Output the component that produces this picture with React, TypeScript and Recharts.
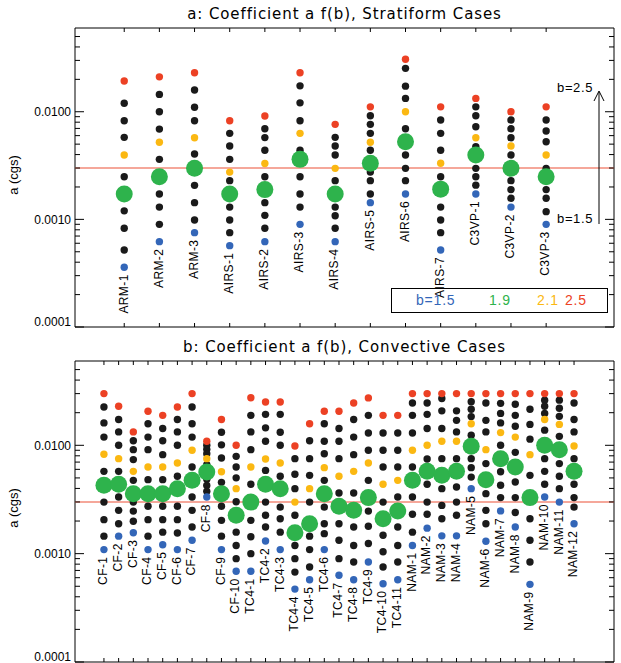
import React from "react";
import {
  ScatterChart,
  Scatter,
  XAxis,
  YAxis,
  ReferenceLine,
  ReferenceArea,
} from "recharts";

// b values for each column, top dot first (b = 2.5 ... 1.5)
const B_VALUES = [2.5, 2.4, 2.3, 2.2, 2.1, 2.0, 1.9, 1.8, 1.7, 1.6, 1.5];

const armNames = ["ARM-1", "ARM-2", "ARM-3"];
const armA = [
  [0.0193, 0.012, 0.00825, 0.00578, 0.00396, 0.00249, 0.00172, 0.0012, 0.000826, 0.00052, 0.000359],
  [0.0211, 0.0145, 0.01, 0.0069, 0.0052, 0.00361, 0.00249, 0.00172, 0.0013, 0.000899, 0.000621],
  [0.023, 0.0159, 0.011, 0.00825, 0.00574, 0.00405, 0.00298, 0.00207, 0.00143, 0.000986, 0.000753],
];

const airsNames = ["AIRS-1", "AIRS-2", "AIRS-3", "AIRS-4", "AIRS-5", "AIRS-6", "AIRS-7"];
const airsA = [
  [0.00825, 0.0063, 0.00481, 0.00361, 0.00275, 0.00229, 0.00172, 0.0013, 0.000986, 0.000753, 0.00057],
  [0.00912, 0.00695, 0.00575, 0.00439, 0.0033, 0.00249, 0.00189, 0.00143, 0.00109, 0.000826, 0.000621],
  [0.023, 0.0174, 0.0121, 0.00825, 0.0063, 0.00439, 0.00361, 0.00249, 0.00172, 0.0013, 0.000899],
  [0.00764, 0.00578, 0.00481, 0.00396, 0.00298, 0.00229, 0.00172, 0.0013, 0.00108, 0.000826, 0.000621],
  [0.0111, 0.00918, 0.00764, 0.0063, 0.0052, 0.00439, 0.00332, 0.00275, 0.00229, 0.00172, 0.00143],
  [0.0307, 0.0253, 0.0173, 0.0133, 0.01, 0.00695, 0.00526, 0.00396, 0.00298, 0.00229, 0.00172],
  [0.0111, 0.00837, 0.0063, 0.00439, 0.00332, 0.00249, 0.00191, 0.0013, 0.000986, 0.000753, 0.00052],
];

const c3vpNames = ["C3VP-1", "C3VP-2", "C3VP-3"];
const c3vpA = [
  [0.0133, 0.0111, 0.00918, 0.00726, 0.00574, 0.00473, 0.00396, 0.00298, 0.00249, 0.00208, 0.00172],
  [0.01, 0.00837, 0.00695, 0.00574, 0.00481, 0.00396, 0.00298, 0.00229, 0.00189, 0.00157, 0.0013],
  [0.0111, 0.00837, 0.00662, 0.00526, 0.00396, 0.00298, 0.00249, 0.00189, 0.00157, 0.00118, 0.000899],
];

const cfNames = ["CF-1", "CF-2", "CF-3", "CF-4", "CF-5", "CF-6", "CF-7", "CF-8", "CF-9", "CF-10"];
const cfA = [
  [0.03, 0.0226, 0.0161, 0.0119, 0.00826, 0.00575, 0.00428, 0.00299, 0.00206, 0.00145, 0.00109],
  [0.0229, 0.0173, 0.0133, 0.01, 0.00753, 0.00575, 0.00437, 0.00333, 0.00251, 0.00189, 0.00145],
  [0.0133, 0.011, 0.00912, 0.00738, 0.00575, 0.00475, 0.00358, 0.00299, 0.00247, 0.00199, 0.00156],
  [0.0206, 0.0158, 0.0119, 0.00912, 0.00631, 0.00482, 0.00358, 0.00274, 0.00206, 0.00145, 0.00109],
  [0.0189, 0.0143, 0.011, 0.0082, 0.00631, 0.00482, 0.00358, 0.00274, 0.00206, 0.00158, 0.00121],
  [0.0226, 0.0173, 0.0133, 0.01, 0.00687, 0.00518, 0.00398, 0.00274, 0.00206, 0.00155, 0.00109],
  [0.03, 0.0226, 0.0158, 0.0119, 0.00899, 0.00631, 0.00475, 0.00333, 0.00251, 0.00176, 0.00133],
  [0.0109, 0.01, 0.00918, 0.00837, 0.00753, 0.00661, 0.00568, 0.00485, 0.00425, 0.00376, 0.00333],
  [0.0173, 0.0132, 0.0101, 0.00764, 0.00571, 0.00455, 0.00358, 0.00274, 0.00203, 0.00145, 0.00109],
  [0.01, 0.00791, 0.00631, 0.00501, 0.00398, 0.00301, 0.00226, 0.00158, 0.00119, 0.000899, 0.000687],
];

const tc4Names = ["TC4-1", "TC4-2", "TC4-3", "TC4-4", "TC4-5", "TC4-6", "TC4-7", "TC4-8", "TC4-9", "TC4-10", "TC4-11"];
const tc4A = [
  [0.0275, 0.0189, 0.0133, 0.00912, 0.00631, 0.00437, 0.00299, 0.00203, 0.00143, 0.001, 0.000687],
  [0.0251, 0.0193, 0.0145, 0.0109, 0.00748, 0.00587, 0.00437, 0.00299, 0.00226, 0.00176, 0.00131],
  [0.0251, 0.0193, 0.0132, 0.01, 0.00687, 0.00518, 0.00398, 0.00269, 0.0021, 0.00158, 0.00109],
  [0.00986, 0.00753, 0.0054, 0.00398, 0.00299, 0.00226, 0.00156, 0.00119, 0.000899, 0.000676, 0.000471],
  [0.0158, 0.011, 0.00753, 0.00528, 0.00398, 0.00299, 0.00189, 0.00145, 0.00109, 0.000752, 0.000575],
  [0.0206, 0.0158, 0.0109, 0.00837, 0.00622, 0.00475, 0.00358, 0.00269, 0.00189, 0.00153, 0.00109],
  [0.0206, 0.0143, 0.0109, 0.00753, 0.00518, 0.00363, 0.00274, 0.00189, 0.00133, 0.000899, 0.000631],
  [0.0246, 0.0173, 0.0119, 0.0082, 0.00575, 0.00363, 0.00251, 0.00176, 0.00119, 0.000838, 0.000575],
  [0.0274, 0.0189, 0.013, 0.00899, 0.00687, 0.00475, 0.00329, 0.00247, 0.00179, 0.00124, 0.000838],
  [0.0189, 0.013, 0.00899, 0.00631, 0.00437, 0.00299, 0.0021, 0.00148, 0.00104, 0.000752, 0.000528],
  [0.0189, 0.013, 0.00899, 0.00631, 0.00475, 0.00333, 0.00247, 0.00176, 0.00119, 0.000838, 0.000575],
];

const namNames = ["NAM-1", "NAM-2", "NAM-3", "NAM-4", "NAM-5", "NAM-6", "NAM-7", "NAM-8", "NAM-9", "NAM-10", "NAM-11", "NAM-12"];
const namA = [
  [0.03, 0.0246, 0.0189, 0.013, 0.00899, 0.00631, 0.00475, 0.00333, 0.00231, 0.00158, 0.00119],
  [0.03, 0.0246, 0.0193, 0.0143, 0.01, 0.00748, 0.00575, 0.00437, 0.00299, 0.00231, 0.00172],
  [0.03, 0.027, 0.0208, 0.0143, 0.0109, 0.00753, 0.00528, 0.00398, 0.00279, 0.0021, 0.00146],
  [0.03, 0.0208, 0.017, 0.0133, 0.0109, 0.00753, 0.00575, 0.00412, 0.00299, 0.00226, 0.00146],
  [0.03, 0.0252, 0.0215, 0.0184, 0.0158, 0.0124, 0.00979, 0.00753, 0.00622, 0.00509, 0.00398],
  [0.03, 0.0246, 0.017, 0.0133, 0.00912, 0.00678, 0.00482, 0.00358, 0.00251, 0.00189, 0.0013],
  [0.03, 0.0244, 0.0197, 0.0161, 0.0131, 0.01, 0.00753, 0.00571, 0.00428, 0.00329, 0.00248],
  [0.03, 0.0239, 0.0189, 0.015, 0.0119, 0.00861, 0.00631, 0.00458, 0.00329, 0.0024, 0.00176],
  [0.03, 0.0215, 0.0156, 0.0114, 0.0082, 0.00528, 0.00329, 0.0021, 0.00133, 0.000838, 0.000521],
  [0.03, 0.0261, 0.0229, 0.0197, 0.0173, 0.0138, 0.01, 0.00753, 0.00575, 0.00437, 0.00333],
  [0.03, 0.0261, 0.022, 0.0185, 0.0156, 0.0121, 0.00912, 0.00678, 0.00518, 0.00398, 0.00299],
  [0.03, 0.0246, 0.0173, 0.0133, 0.00986, 0.00753, 0.00575, 0.00437, 0.00329, 0.00269, 0.00189],
];

const Y_MAJOR = [0.0001, 0.001, 0.01];
const Y_TICKS = [
  0.0001, 0.0002, 0.0003, 0.0004, 0.0005, 0.0006, 0.0007, 0.0008, 0.0009,
  0.001, 0.002, 0.003, 0.004, 0.005, 0.006, 0.007, 0.008, 0.009,
  0.01, 0.02, 0.03, 0.04, 0.05,
];
const Y_DOMAIN = [0.0001, 0.06];
const A_REF = 0.003;

const PLOT_LEFT = 75;
const PLOT_RIGHT = 614;
const X_AXIS_H = 2;

const RED = "#ec4124";
const ORANGE = "#fbb812";
const BLUE = "#3366b8";
const GREEN = "#2eb34c";
const BLACK = "#1a1a1a";
const LINE = "#f28a78";
const FONT = "'Liberation Sans', Arial, sans-serif";

function colorFor(b: number) {
  if (b === 2.5) return RED;
  if (b === 2.1) return ORANGE;
  if (b === 1.9) return GREEN;
  if (b === 1.5) return BLUE;
  return BLACK;
}

function YTick(props: any) {
  const { y, payload } = props;
  const v = payload.value;
  const major = Y_MAJOR.includes(v);
  const len = major ? 9 : 5;
  // lowest label sits a little above its tick, as in the IDL plot
  const lift = v === Y_DOMAIN[0] ? -5 : 0;
  return (
    <g>
      <line x1={PLOT_LEFT} x2={PLOT_LEFT + len} y1={y} y2={y} stroke="#000" strokeWidth={1} />
      <line x1={PLOT_RIGHT} x2={PLOT_RIGHT - len} y1={y} y2={y} stroke="#000" strokeWidth={1} />
      {major && (
        <text
          x={PLOT_LEFT - 4}
          y={y + lift}
          dy="0.36em"
          textAnchor="end"
          fontSize={12}
          fontFamily={FONT}
          fill="#000"
        >
          {v.toFixed(4)}
        </text>
      )}
    </g>
  );
}

interface PanelProps {
  title: string;
  names: string[];
  values: number[][];
  xDomain: [number, number];
  top: number;
  height: number;
  marginTop: number;
  marginBottom: number;
  children?: React.ReactNode;
}

function Panel({ title, names, values, xDomain, top, height, marginTop, marginBottom, children }: PanelProps) {
  const plotTop = marginTop;
  const plotBottom = height - marginBottom - X_AXIS_H;
  const xTicks = names.map((_, i) => i + 1);

  const XTick = (props: any) => {
    const { x } = props;
    return (
      <g>
        <line x1={x} x2={x} y1={plotBottom} y2={plotBottom - 4} stroke="#000" />
        <line x1={x} x2={x} y1={plotTop} y2={plotTop + 4} stroke="#000" />
      </g>
    );
  };

  const series = B_VALUES.map((b, k) => ({
    b,
    data: names.map((name, i) => ({ x: i + 1, y: values[i][k], name })),
  }));
  // draw black first, then coloured ones, green on top
  const order = (b: number) => (b === 1.9 ? 3 : colorFor(b) === BLACK ? 0 : 1);
  const sorted = [...series].sort((p, q) => order(p.b) - order(q.b));

  return (
    <div style={{ position: "absolute", left: 0, top, width: 621, height }}>
      <div
        style={{
          position: "absolute",
          left: PLOT_LEFT,
          width: PLOT_RIGHT - PLOT_LEFT,
          top: marginTop - 23,
          textAlign: "center",
          fontFamily: "'DejaVu Sans', sans-serif",
          fontSize: 15,
          letterSpacing: 0.9,
          lineHeight: "18px",
          color: "#000",
        }}
      >
        {title}
      </div>
      <div
        style={{
          position: "absolute",
          left: 13,
          top: marginTop + (plotBottom - plotTop) * 0.49,
          transform: "translate(-50%, -50%) rotate(-90deg)",
          fontFamily: FONT,
          fontSize: 13,
          whiteSpace: "nowrap",
        }}
      >
        a (cgs)
      </div>
      <ScatterChart
        width={621}
        height={height}
        margin={{ top: marginTop, right: 621 - PLOT_RIGHT, bottom: marginBottom, left: 0 }}
      >
        <XAxis
          type="number"
          dataKey="x"
          domain={xDomain}
          allowDataOverflow
          ticks={xTicks}
          interval={0}
          height={X_AXIS_H}
          axisLine={false}
          tickLine={false}
          tickSize={0}
          tick={<XTick />}
        />
        <YAxis
          type="number"
          dataKey="y"
          scale="log"
          domain={Y_DOMAIN}
          allowDataOverflow
          ticks={Y_TICKS}
          interval={0}
          width={PLOT_LEFT}
          axisLine={false}
          tickLine={false}
          tickSize={0}
          tickMargin={0}
          tick={<YTick />}
        />
        <ReferenceLine y={A_REF} stroke={LINE} strokeWidth={1.5} />
        {sorted.map((s) => {
          const color = colorFor(s.b);
          const r = s.b === 1.9 ? 8.5 : 3.7;
          return (
            <Scatter
              key={s.b}
              data={s.data}
              isAnimationActive={false}
              shape={(p: any) => (
                <g>
                  <circle cx={p.cx} cy={p.cy} r={r} fill={color} />
                  {s.b === 1.5 && (
                    <text
                      x={p.cx - 1}
                      y={p.cy + 7}
                      dy="0.36em"
                      transform={`rotate(-90 ${p.cx - 1} ${p.cy + 7})`}
                      textAnchor="end"
                      fontSize={12}
                      fontFamily={FONT}
                      letterSpacing={0.4}
                      fill="#000"
                    >
                      {p.payload?.name}
                    </text>
                  )}
                </g>
              )}
            />
          );
        })}
        <ReferenceArea
          x1={xDomain[0]}
          x2={xDomain[1]}
          y1={Y_DOMAIN[0]}
          y2={Y_DOMAIN[1]}
          fill="none"
          fillOpacity={0}
          stroke="#000"
          strokeWidth={1}
        />
      </ScatterChart>
      {children}
    </div>
  );
}

export default function App() {
  const stratNames = [...armNames, ...airsNames, ...c3vpNames];
  const stratA = [...armA, ...airsA, ...c3vpA];
  const convNames = [...cfNames, ...tc4Names, ...namNames];
  const convA = [...cfA, ...tc4A, ...namA];

  const legendText: React.CSSProperties = {
    position: "absolute",
    top: 290,
    fontFamily: FONT,
    fontSize: 14,
    letterSpacing: 0.8,
    lineHeight: "20px",
  };

  return (
    <div
      style={{
        position: "absolute",
        left: 0,
        top: 0,
        width: 621,
        height: 663,
        overflow: "hidden",
        background: "#fff",
      }}
    >
      <Panel
        title="a: Coefficient a f(b), Stratiform Cases"
        names={stratNames}
        values={stratA}
        xDomain={[-0.4, 14.93]}
        top={0}
        height={340}
        marginTop={28}
        marginBottom={11}
      >
        {/* b legend box, no fill so the AIRS-7 label shows through */}
        <div
          style={{
            position: "absolute",
            left: 391,
            top: 288,
            width: 215,
            height: 23,
            border: "1px solid #000",
          }}
        />
        <div style={{ ...legendText, left: 416, color: BLUE }}>b=1.5</div>
        <div style={{ ...legendText, left: 489, color: GREEN }}>1.9</div>
        <div style={{ ...legendText, left: 537, color: ORANGE }}>2.1</div>
        <div style={{ ...legendText, left: 565, color: RED }}>2.5</div>
        {/* b direction arrow */}
        <svg
          style={{ position: "absolute", left: 0, top: 0 }}
          width={621}
          height={340}
        >
          <line x1={599} x2={599} y1={92} y2={224} stroke="#000" strokeWidth={1} />
          <polyline points="594,101 599,91 604,101" fill="none" stroke="#000" strokeWidth={1} />
          <text x={593} y={87} dy="0.36em" textAnchor="end" fontSize={13} fontFamily={FONT} letterSpacing={0.6}>
            b=2.5
          </text>
          <text x={593} y={218} dy="0.36em" textAnchor="end" fontSize={13} fontFamily={FONT} letterSpacing={0.6}>
            b=1.5
          </text>
        </svg>
      </Panel>
      <Panel
        title="b: Coefficient a f(b), Convective Cases"
        names={convNames}
        values={convA}
        xDomain={[-0.97, 35.72]}
        top={334}
        height={334}
        marginTop={27}
        marginBottom={4}
      />
    </div>
  );
}
